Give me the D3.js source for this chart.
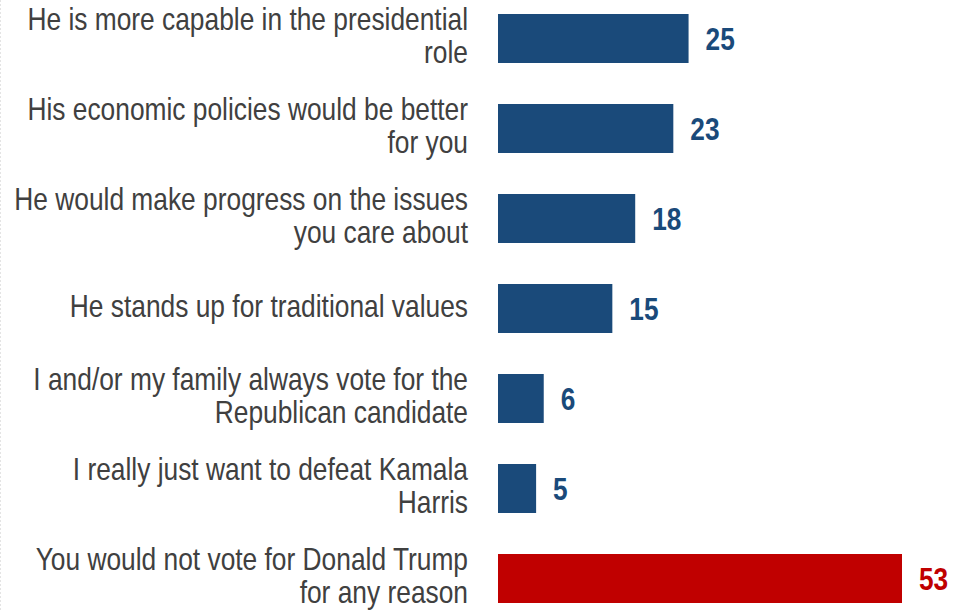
<!DOCTYPE html>
<html>
<head>
<meta charset="utf-8">
<script src="https://cdn.jsdelivr.net/npm/d3@7"></script>
<style>
  html, body { margin: 0; padding: 0; background: #ffffff; }
  svg { display: block; }
</style>
</head>
<body>
<svg id="chart" width="957" height="611"></svg>
<script>
const categories = [
  "He is more capable in the presidential\nrole",
  "His economic policies would be better\nfor you",
  "He would make progress on the issues\nyou care about",
  "He stands up for traditional values",
  "I and/or my family always vote for the\nRepublican candidate",
  "I really just want to defeat Kamala\nHarris",
  "You would not vote for Donald Trump\nfor any reason"
];
const values = [25, 23, 18, 15, 6, 5, 53];
const barColors = ["#1a4a7a", "#1a4a7a", "#1a4a7a", "#1a4a7a", "#1a4a7a", "#1a4a7a", "#c00000"];

const FONT = "'Liberation Sans', Arial, sans-serif";
const NARROW = 0.85;
const svg = d3.select("#chart");

// faint left frame line
svg.append("line")
  .attr("x1", 0.5).attr("x2", 0.5).attr("y1", 0).attr("y2", 611)
  .attr("stroke", "#e4e4e4").attr("stroke-dasharray", "2,2");

const x = d3.scaleLinear().domain([0, 53]).range([498, 902]);
const y = d3.scaleBand().domain(categories).range([14, 603]).paddingInner(0.4556).paddingOuter(0);

svg.selectAll("rect.bar")
  .data(categories)
  .join("rect")
  .attr("class", "bar")
  .attr("x", x(0))
  .attr("y", d => y(d))
  .attr("width", (d, i) => x(values[i]) - x(0))
  .attr("height", y.bandwidth())
  .attr("fill", (d, i) => barColors[i]);

svg.selectAll("text.val")
  .data(categories)
  .join("text")
  .attr("class", "val")
  .attr("transform", (d, i) => `translate(${x(values[i]) + 17},${y(d) + y.bandwidth() / 2}) scale(0.82,1)`)
  .attr("dy", "0.36em")
  .attr("font-family", FONT)
  .attr("font-weight", "bold")
  .attr("font-size", 32)
  .attr("fill", (d, i) => barColors[i])
  .text((d, i) => values[i]);

const lineH = 33;
const labels = svg.selectAll("text.lab")
  .data(categories)
  .join("text")
  .attr("class", "lab")
  .attr("text-anchor", "end")
  .attr("transform", d => `translate(468,${y(d) + y.bandwidth() / 2}) scale(${NARROW},1)`)
  .attr("font-family", FONT)
  .attr("font-size", 31)
  .attr("fill", "#404040");

labels.each(function (d) {
  const lines = d.split("\n");
  const first = -(lines.length - 1) * lineH / 2;
  d3.select(this).selectAll("tspan")
    .data(lines)
    .join("tspan")
    .attr("x", 0)
    .attr("y", (l, j) => first + j * lineH)
    .attr("dy", "0.27em")
    .text(l => l);
});
</script>
</body>
</html>
